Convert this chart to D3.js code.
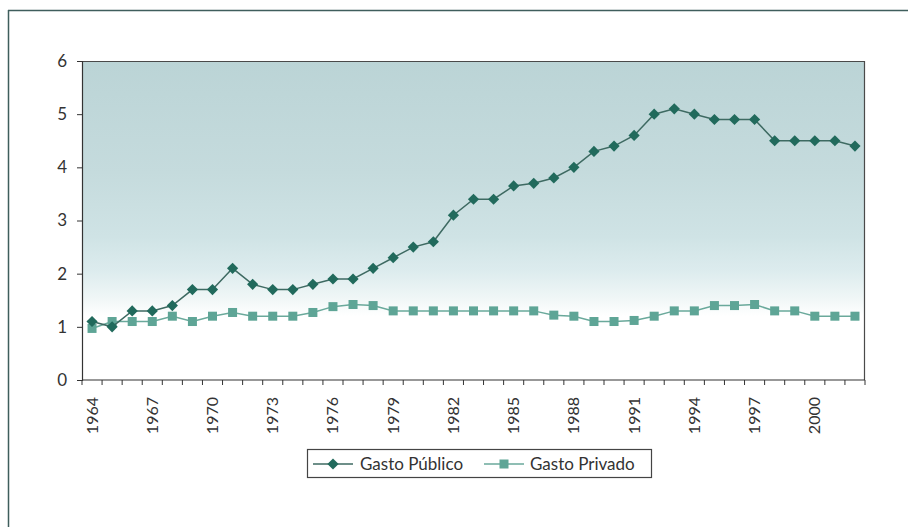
<!DOCTYPE html>
<html>
<head>
<meta charset="utf-8">
<script src="https://cdn.jsdelivr.net/npm/d3@7"></script>
<style>
  html, body { margin: 0; padding: 0; background: #ffffff; }
  svg { display: block; }
  text { font-family: Lato, "Open Sans", sans-serif; fill: #333; }
</style>
</head>
<body>
<svg id="chart" width="908" height="527"></svg>
<script>
const years = d3.range(1964, 2003).map(String);
const gastoPublico = [1.1, 1.0, 1.3, 1.3, 1.4, 1.7, 1.7, 2.1, 1.8, 1.7, 1.7, 1.8, 1.9, 1.9, 2.1, 2.3, 2.5, 2.6, 3.1, 3.4, 3.4, 3.65, 3.7, 3.8, 4.0, 4.3, 4.4, 4.6, 5.0, 5.1, 5.0, 4.9, 4.9, 4.9, 4.5, 4.5, 4.5, 4.5, 4.4];
const gastoPrivado = [0.97, 1.1, 1.1, 1.1, 1.2, 1.1, 1.2, 1.27, 1.2, 1.2, 1.2, 1.27, 1.38, 1.42, 1.4, 1.3, 1.3, 1.3, 1.3, 1.3, 1.3, 1.3, 1.3, 1.22, 1.2, 1.1, 1.1, 1.12, 1.2, 1.3, 1.3, 1.4, 1.4, 1.42, 1.3, 1.3, 1.2, 1.2, 1.2];
const yTicks = [0, 1, 2, 3, 4, 5, 6];
const xLabelYears = ["1964","1967","1970","1973","1976","1979","1982","1985","1988","1991","1994","1997","2000"];
const seriesNames = ["Gasto Público", "Gasto Privado"];

const svg = d3.select("#chart");
const m = { left: 82, top: 61, right: 865, bottom: 380 };

// outer frame (top & left)
svg.append("line").attr("x1", 8).attr("x2", 908).attr("y1", 10.5).attr("y2", 10.5)
  .attr("stroke", "#3f5e5c").attr("stroke-width", 1.5);
svg.append("line").attr("x1", 8.5).attr("x2", 8.5).attr("y1", 10).attr("y2", 527)
  .attr("stroke", "#3f5e5c").attr("stroke-width", 1.5);

const x = d3.scaleBand().domain(years).range([m.left, m.right]).padding(0);
const y = d3.scaleLinear().domain([0, 6]).range([m.bottom, m.top]);

// gradient background
const defs = svg.append("defs");
const grad = defs.append("linearGradient").attr("id", "bg").attr("x1", 0).attr("x2", 0).attr("y1", 0).attr("y2", 1);
[[0, "#bbd4d6"], [0.35, "#c5dbdd"], [0.55, "#cfe3e5"], [0.66, "#ddecee"], [0.74, "#eff6f6"], [0.8, "#ffffff"], [1, "#ffffff"]]
  .forEach(([o, c]) => grad.append("stop").attr("offset", o).attr("stop-color", c));

svg.append("rect").attr("x", m.left).attr("y", m.top)
  .attr("width", m.right - m.left).attr("height", m.bottom - m.top)
  .attr("fill", "url(#bg)");

// plot border top & right
svg.append("path")
  .attr("d", `M${m.left},${m.top + 0.5}H${m.right - 0.5}V${m.bottom}`)
  .attr("fill", "none").attr("stroke", "#4a4a4a").attr("stroke-width", 1.2);

// y axis
const yAxis = svg.append("g").attr("transform", `translate(${m.left},0)`)
  .call(d3.axisLeft(y).tickValues(yTicks).tickSize(5).tickPadding(10).tickFormat(d3.format("d")));
yAxis.select(".domain").attr("stroke", "#333").attr("stroke-width", 1.2);
yAxis.selectAll(".tick line").attr("stroke", "#333");
yAxis.selectAll("text").attr("font-size", 17).attr("fill", "#333")
  .style("font-family", "Lato, 'Open Sans', sans-serif");

// x axis: ticks at category boundaries
const xAxisG = svg.append("g").attr("transform", `translate(0,${m.bottom})`);
xAxisG.append("line").attr("x1", m.left).attr("x2", m.right).attr("y1", 0).attr("y2", 0)
  .attr("stroke", "#333").attr("stroke-width", 1.2);
const boundaries = years.map(yr => x(yr)).concat([x(years[years.length - 1]) + x.bandwidth()]);
xAxisG.selectAll("line.tk").data(boundaries).enter().append("line").attr("class", "tk")
  .attr("x1", d => d).attr("x2", d => d).attr("y1", 0).attr("y2", 5)
  .attr("stroke", "#333");
xAxisG.selectAll("text.lbl").data(xLabelYears).enter().append("text").attr("class", "lbl")
  .attr("transform", d => `translate(${x(d) + x.bandwidth() / 2 + 5.5},17) rotate(-90)`)
  .attr("text-anchor", "end").attr("font-size", 16).attr("fill", "#333")
  .text(d => d);

// lines
const colPub = "#216a5c", colPriv = "#5ea596";
const lineGen = d3.line().x((d, i) => x(years[i]) + x.bandwidth() / 2).y(d => y(d));

svg.append("path").datum(gastoPrivado).attr("d", lineGen)
  .attr("fill", "none").attr("stroke", "#6aa99b").attr("stroke-width", 1.5);
svg.selectAll("rect.priv").data(gastoPrivado).enter().append("rect").attr("class", "priv")
  .attr("x", (d, i) => x(years[i]) + x.bandwidth() / 2 - 4.5)
  .attr("y", d => y(d) - 4.5).attr("width", 9).attr("height", 9)
  .attr("fill", colPriv);

svg.append("path").datum(gastoPublico).attr("d", lineGen)
  .attr("fill", "none").attr("stroke", "#3e6a62").attr("stroke-width", 1.5);
const diamond = d3.symbol().type(d3.symbolDiamond2).size(80);
svg.selectAll("path.pub").data(gastoPublico).enter().append("path").attr("class", "pub")
  .attr("d", diamond)
  .attr("transform", (d, i) => `translate(${x(years[i]) + x.bandwidth() / 2},${y(d)})`)
  .attr("fill", colPub);

// legend
const lg = svg.append("g");
lg.append("rect").attr("x", 307.5).attr("y", 449.5).attr("width", 344).attr("height", 28)
  .attr("fill", "#fff").attr("stroke", "#444").attr("stroke-width", 1.2);
lg.append("line").attr("x1", 313).attr("x2", 353).attr("y1", 464).attr("y2", 464)
  .attr("stroke", "#3e6a62").attr("stroke-width", 1.5);
lg.append("path").attr("d", diamond).attr("transform", "translate(333,464)").attr("fill", colPub);
lg.append("text").attr("x", 360).attr("y", 469.5).attr("font-size", 17).text(seriesNames[0]);
lg.append("line").attr("x1", 484).attr("x2", 524).attr("y1", 464).attr("y2", 464)
  .attr("stroke", "#6aa99b").attr("stroke-width", 1.5);
lg.append("rect").attr("x", 499.5).attr("y", 459.5).attr("width", 9).attr("height", 9).attr("fill", colPriv);
lg.append("text").attr("x", 530).attr("y", 469.5).attr("font-size", 17).text(seriesNames[1]);
</script>
</body>
</html>
